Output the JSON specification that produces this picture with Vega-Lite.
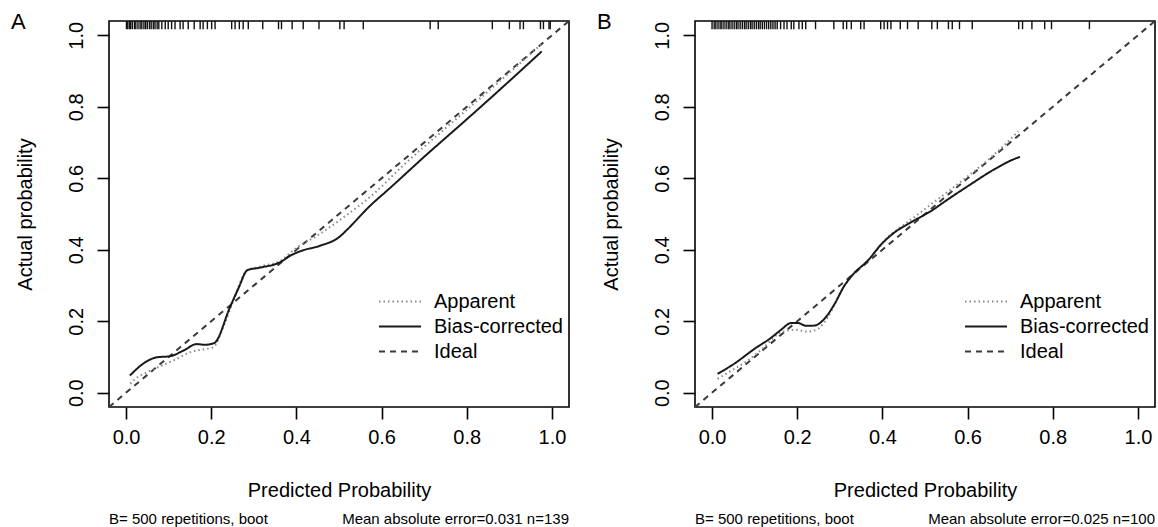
{
  "$schema": "https://vega.github.io/schema/vega-lite/v6.json",
  "background": "white",
  "padding": {"left": 10, "top": 10, "right": 0, "bottom": 0},
  "bounds": "flush",
  "spacing": 126,
  "config": {
    "font": "Liberation Sans",
    "view": {"stroke": "black", "strokeWidth": 1.6},
    "axis": {
      "grid": false,
      "domain": false,
      "tickSize": 12,
      "tickColor": "black",
      "tickWidth": 1.6,
      "labelFont": "Liberation Sans",
      "labelFontSize": 20,
      "labelColor": "black",
      "titleFont": "Liberation Sans",
      "titleFontSize": 20,
      "titleFontWeight": "normal",
      "titleColor": "black"
    },
    "legend": {
      "orient": "none",
      "legendX": 269,
      "legendY": 268,
      "title": null,
      "symbolType": "stroke",
      "symbolSize": 1764,
      "symbolStrokeWidth": 1.8,
      "labelFont": "Liberation Sans",
      "labelFontSize": 20,
      "labelColor": "black",
      "labelOffset": 12,
      "clipHeight": 25,
      "rowPadding": 0,
      "padding": 0,
      "labelLimit": 300
    }
  },
  "datasets": {
    "curves": [
      {"panel": "A", "series": "Ideal", "x": -0.04, "y": -0.04},
      {"panel": "A", "series": "Ideal", "x": 1.04, "y": 1.04},
      {"panel": "A", "series": "Apparent", "x": 0.01, "y": 0.025},
      {"panel": "A", "series": "Apparent", "x": 0.017, "y": 0.034},
      {"panel": "A", "series": "Apparent", "x": 0.049, "y": 0.057},
      {"panel": "A", "series": "Apparent", "x": 0.084, "y": 0.076},
      {"panel": "A", "series": "Apparent", "x": 0.12, "y": 0.095},
      {"panel": "A", "series": "Apparent", "x": 0.15, "y": 0.113},
      {"panel": "A", "series": "Apparent", "x": 0.185, "y": 0.122},
      {"panel": "A", "series": "Apparent", "x": 0.205, "y": 0.127},
      {"panel": "A", "series": "Apparent", "x": 0.228, "y": 0.183},
      {"panel": "A", "series": "Apparent", "x": 0.252, "y": 0.257},
      {"panel": "A", "series": "Apparent", "x": 0.283, "y": 0.341},
      {"panel": "A", "series": "Apparent", "x": 0.322, "y": 0.355},
      {"panel": "A", "series": "Apparent", "x": 0.362, "y": 0.369},
      {"panel": "A", "series": "Apparent", "x": 0.401, "y": 0.406},
      {"panel": "A", "series": "Apparent", "x": 0.448, "y": 0.439},
      {"panel": "A", "series": "Apparent", "x": 0.51, "y": 0.49},
      {"panel": "A", "series": "Apparent", "x": 0.581, "y": 0.556},
      {"panel": "A", "series": "Apparent", "x": 0.65, "y": 0.635},
      {"panel": "A", "series": "Apparent", "x": 0.75, "y": 0.74},
      {"panel": "A", "series": "Apparent", "x": 0.85, "y": 0.843},
      {"panel": "A", "series": "Apparent", "x": 0.975, "y": 0.975},
      {"panel": "A", "series": "Bias-corrected", "x": 0.009, "y": 0.048},
      {"panel": "A", "series": "Bias-corrected", "x": 0.045, "y": 0.085},
      {"panel": "A", "series": "Bias-corrected", "x": 0.072, "y": 0.099},
      {"panel": "A", "series": "Bias-corrected", "x": 0.103, "y": 0.102},
      {"panel": "A", "series": "Bias-corrected", "x": 0.135, "y": 0.118},
      {"panel": "A", "series": "Bias-corrected", "x": 0.166, "y": 0.136},
      {"panel": "A", "series": "Bias-corrected", "x": 0.185, "y": 0.134},
      {"panel": "A", "series": "Bias-corrected", "x": 0.207, "y": 0.139},
      {"panel": "A", "series": "Bias-corrected", "x": 0.244, "y": 0.239},
      {"panel": "A", "series": "Bias-corrected", "x": 0.265, "y": 0.295},
      {"panel": "A", "series": "Bias-corrected", "x": 0.285, "y": 0.343},
      {"panel": "A", "series": "Bias-corrected", "x": 0.315, "y": 0.35},
      {"panel": "A", "series": "Bias-corrected", "x": 0.363, "y": 0.366},
      {"panel": "A", "series": "Bias-corrected", "x": 0.385, "y": 0.383},
      {"panel": "A", "series": "Bias-corrected", "x": 0.412, "y": 0.397},
      {"panel": "A", "series": "Bias-corrected", "x": 0.455, "y": 0.411},
      {"panel": "A", "series": "Bias-corrected", "x": 0.501, "y": 0.436},
      {"panel": "A", "series": "Bias-corrected", "x": 0.518, "y": 0.455},
      {"panel": "A", "series": "Bias-corrected", "x": 0.573, "y": 0.523},
      {"panel": "A", "series": "Bias-corrected", "x": 0.62, "y": 0.573},
      {"panel": "A", "series": "Bias-corrected", "x": 0.7, "y": 0.66},
      {"panel": "A", "series": "Bias-corrected", "x": 0.8, "y": 0.765},
      {"panel": "A", "series": "Bias-corrected", "x": 0.9, "y": 0.872},
      {"panel": "A", "series": "Bias-corrected", "x": 0.976, "y": 0.955},
      {"panel": "B", "series": "Ideal", "x": -0.04, "y": -0.04},
      {"panel": "B", "series": "Ideal", "x": 1.04, "y": 1.04},
      {"panel": "B", "series": "Apparent", "x": 0.013, "y": 0.039},
      {"panel": "B", "series": "Apparent", "x": 0.05, "y": 0.065},
      {"panel": "B", "series": "Apparent", "x": 0.084, "y": 0.09},
      {"panel": "B", "series": "Apparent", "x": 0.12, "y": 0.125},
      {"panel": "B", "series": "Apparent", "x": 0.162, "y": 0.169},
      {"panel": "B", "series": "Apparent", "x": 0.194, "y": 0.176},
      {"panel": "B", "series": "Apparent", "x": 0.225, "y": 0.171},
      {"panel": "B", "series": "Apparent", "x": 0.249, "y": 0.179},
      {"panel": "B", "series": "Apparent", "x": 0.272, "y": 0.211},
      {"panel": "B", "series": "Apparent", "x": 0.304, "y": 0.286},
      {"panel": "B", "series": "Apparent", "x": 0.331, "y": 0.33},
      {"panel": "B", "series": "Apparent", "x": 0.374, "y": 0.379},
      {"panel": "B", "series": "Apparent", "x": 0.405, "y": 0.426},
      {"panel": "B", "series": "Apparent", "x": 0.445, "y": 0.465},
      {"panel": "B", "series": "Apparent", "x": 0.47, "y": 0.487},
      {"panel": "B", "series": "Apparent", "x": 0.523, "y": 0.535},
      {"panel": "B", "series": "Apparent", "x": 0.602, "y": 0.607},
      {"panel": "B", "series": "Apparent", "x": 0.664, "y": 0.668},
      {"panel": "B", "series": "Apparent", "x": 0.719, "y": 0.731},
      {"panel": "B", "series": "Bias-corrected", "x": 0.013, "y": 0.053},
      {"panel": "B", "series": "Bias-corrected", "x": 0.052, "y": 0.081},
      {"panel": "B", "series": "Bias-corrected", "x": 0.1, "y": 0.123},
      {"panel": "B", "series": "Bias-corrected", "x": 0.139, "y": 0.154},
      {"panel": "B", "series": "Bias-corrected", "x": 0.162, "y": 0.176},
      {"panel": "B", "series": "Bias-corrected", "x": 0.186, "y": 0.195},
      {"panel": "B", "series": "Bias-corrected", "x": 0.202, "y": 0.195},
      {"panel": "B", "series": "Bias-corrected", "x": 0.221, "y": 0.187},
      {"panel": "B", "series": "Bias-corrected", "x": 0.241, "y": 0.188},
      {"panel": "B", "series": "Bias-corrected", "x": 0.264, "y": 0.207},
      {"panel": "B", "series": "Bias-corrected", "x": 0.288, "y": 0.249},
      {"panel": "B", "series": "Bias-corrected", "x": 0.311, "y": 0.3},
      {"panel": "B", "series": "Bias-corrected", "x": 0.331, "y": 0.331},
      {"panel": "B", "series": "Bias-corrected", "x": 0.366, "y": 0.37},
      {"panel": "B", "series": "Bias-corrected", "x": 0.398, "y": 0.416},
      {"panel": "B", "series": "Bias-corrected", "x": 0.429, "y": 0.449},
      {"panel": "B", "series": "Bias-corrected", "x": 0.46, "y": 0.472},
      {"panel": "B", "series": "Bias-corrected", "x": 0.515, "y": 0.509},
      {"panel": "B", "series": "Bias-corrected", "x": 0.555, "y": 0.542},
      {"panel": "B", "series": "Bias-corrected", "x": 0.602, "y": 0.579},
      {"panel": "B", "series": "Bias-corrected", "x": 0.664, "y": 0.626},
      {"panel": "B", "series": "Bias-corrected", "x": 0.704, "y": 0.651},
      {"panel": "B", "series": "Bias-corrected", "x": 0.723, "y": 0.66}
    ],
    "rug": [
      {"panel": "A", "x": 0.001}, {"panel": "A", "x": 0.004}, {"panel": "A", "x": 0.008}, {"panel": "A", "x": 0.011},
      {"panel": "A", "x": 0.015}, {"panel": "A", "x": 0.02}, {"panel": "A", "x": 0.023}, {"panel": "A", "x": 0.028},
      {"panel": "A", "x": 0.033}, {"panel": "A", "x": 0.037}, {"panel": "A", "x": 0.042}, {"panel": "A", "x": 0.046},
      {"panel": "A", "x": 0.05}, {"panel": "A", "x": 0.055}, {"panel": "A", "x": 0.059}, {"panel": "A", "x": 0.064},
      {"panel": "A", "x": 0.068}, {"panel": "A", "x": 0.073}, {"panel": "A", "x": 0.077}, {"panel": "A", "x": 0.084},
      {"panel": "A", "x": 0.092}, {"panel": "A", "x": 0.099}, {"panel": "A", "x": 0.107}, {"panel": "A", "x": 0.115},
      {"panel": "A", "x": 0.127}, {"panel": "A", "x": 0.134}, {"panel": "A", "x": 0.146}, {"panel": "A", "x": 0.16},
      {"panel": "A", "x": 0.174}, {"panel": "A", "x": 0.181}, {"panel": "A", "x": 0.191}, {"panel": "A", "x": 0.201},
      {"panel": "A", "x": 0.209}, {"panel": "A", "x": 0.248}, {"panel": "A", "x": 0.256}, {"panel": "A", "x": 0.266},
      {"panel": "A", "x": 0.275}, {"panel": "A", "x": 0.287}, {"panel": "A", "x": 0.321}, {"panel": "A", "x": 0.358},
      {"panel": "A", "x": 0.365}, {"panel": "A", "x": 0.39}, {"panel": "A", "x": 0.416}, {"panel": "A", "x": 0.453},
      {"panel": "A", "x": 0.502}, {"panel": "A", "x": 0.512}, {"panel": "A", "x": 0.557}, {"panel": "A", "x": 0.714},
      {"panel": "A", "x": 0.733}, {"panel": "A", "x": 0.86}, {"panel": "A", "x": 0.9}, {"panel": "A", "x": 0.925},
      {"panel": "A", "x": 0.933}, {"panel": "A", "x": 0.973}, {"panel": "A", "x": 0.98}, {"panel": "A", "x": 0.993},
      {"panel": "A", "x": 0.996},
      {"panel": "B", "x": 0.0}, {"panel": "B", "x": 0.005}, {"panel": "B", "x": 0.009}, {"panel": "B", "x": 0.014},
      {"panel": "B", "x": 0.019}, {"panel": "B", "x": 0.023}, {"panel": "B", "x": 0.028}, {"panel": "B", "x": 0.033},
      {"panel": "B", "x": 0.038}, {"panel": "B", "x": 0.042}, {"panel": "B", "x": 0.047}, {"panel": "B", "x": 0.052},
      {"panel": "B", "x": 0.057}, {"panel": "B", "x": 0.061}, {"panel": "B", "x": 0.066}, {"panel": "B", "x": 0.071},
      {"panel": "B", "x": 0.076}, {"panel": "B", "x": 0.08}, {"panel": "B", "x": 0.085}, {"panel": "B", "x": 0.09},
      {"panel": "B", "x": 0.094}, {"panel": "B", "x": 0.099}, {"panel": "B", "x": 0.104}, {"panel": "B", "x": 0.109},
      {"panel": "B", "x": 0.113}, {"panel": "B", "x": 0.118}, {"panel": "B", "x": 0.123}, {"panel": "B", "x": 0.128},
      {"panel": "B", "x": 0.133}, {"panel": "B", "x": 0.138}, {"panel": "B", "x": 0.143}, {"panel": "B", "x": 0.148},
      {"panel": "B", "x": 0.153}, {"panel": "B", "x": 0.161}, {"panel": "B", "x": 0.169}, {"panel": "B", "x": 0.176},
      {"panel": "B", "x": 0.186}, {"panel": "B", "x": 0.192}, {"panel": "B", "x": 0.204}, {"panel": "B", "x": 0.212},
      {"panel": "B", "x": 0.22}, {"panel": "B", "x": 0.243}, {"panel": "B", "x": 0.286}, {"panel": "B", "x": 0.308},
      {"panel": "B", "x": 0.316}, {"panel": "B", "x": 0.327}, {"panel": "B", "x": 0.349}, {"panel": "B", "x": 0.357},
      {"panel": "B", "x": 0.396}, {"panel": "B", "x": 0.404}, {"panel": "B", "x": 0.412}, {"panel": "B", "x": 0.42},
      {"panel": "B", "x": 0.442}, {"panel": "B", "x": 0.459}, {"panel": "B", "x": 0.484}, {"panel": "B", "x": 0.516},
      {"panel": "B", "x": 0.529}, {"panel": "B", "x": 0.555}, {"panel": "B", "x": 0.564}, {"panel": "B", "x": 0.581},
      {"panel": "B", "x": 0.611}, {"panel": "B", "x": 0.72}, {"panel": "B", "x": 0.729}, {"panel": "B", "x": 0.751},
      {"panel": "B", "x": 0.781}, {"panel": "B", "x": 0.797}, {"panel": "B", "x": 0.886}
    ],
    "notes": [
      {"panel": "A", "kind": "tag", "text": "A"},
      {"panel": "A", "kind": "left", "text": "B= 500 repetitions, boot"},
      {"panel": "A", "kind": "right", "text": "Mean absolute error=0.031 n=139"},
      {"panel": "B", "kind": "tag", "text": "B"},
      {"panel": "B", "kind": "left", "text": "B= 500 repetitions, boot"},
      {"panel": "B", "kind": "right", "text": "Mean absolute error=0.025 n=100"}
    ]
  },
  "resolve": {"scale": {"color": "independent", "strokeDash": "independent"}, "legend": {"color": "independent", "strokeDash": "independent"}},
  "hconcat": [
    {
      "width": 460,
      "height": 386,
      "layer": [
        {
          "data": {"name": "curves"},
          "transform": [{"filter": "datum.panel === 'A'"}],
          "mark": {"type": "line", "interpolate": "monotone", "strokeWidth": 2},
          "encoding": {
            "x": {"field": "x", "type": "quantitative", "scale": {"domain": [-0.04, 1.04], "nice": false, "zero": false},
                  "axis": {"values": [0, 0.2, 0.4, 0.6, 0.8, 1.0], "format": ".1f", "labelPadding": 8, "title": "Predicted Probability", "titlePadding": 33}},
            "y": {"field": "y", "type": "quantitative", "scale": {"domain": [-0.04, 1.04], "nice": false, "zero": false},
                  "axis": {"values": [0, 0.2, 0.4, 0.6, 0.8, 1.0], "format": ".1f", "labelAngle": -90, "labelAlign": "center", "labelBaseline": "bottom", "labelPadding": 11, "title": "Actual probability", "titlePadding": 31}},
            "color": {"field": "series", "type": "nominal", "scale": {"domain": ["Apparent", "Bias-corrected", "Ideal"], "range": ["#8a8a8a", "#1a1a1a", "#3a3a3a"]}, "legend": {"title": null}},
            "strokeDash": {"field": "series", "type": "nominal", "scale": {"domain": ["Apparent", "Bias-corrected", "Ideal"], "range": [[1.5, 3], [1, 0], [6, 5]]}, "legend": {"title": null}}
          }
        },
        {
          "data": {"name": "rug"},
          "transform": [{"filter": "datum.panel === 'A'"}],
          "mark": {"type": "rule", "color": "#111111", "strokeWidth": 1.4},
          "encoding": {"x": {"field": "x", "type": "quantitative"}, "y": {"datum": 1.04}, "y2": {"datum": 1.017}}
        },
        {
          "data": {"name": "notes"},
          "transform": [{"filter": "datum.panel === 'A' && datum.kind === 'left'"}],
          "mark": {"type": "text", "align": "left", "baseline": "alphabetic", "fontSize": 15, "color": "black"},
          "encoding": {"x": {"datum": -0.04}, "y": {"datum": -0.367}, "text": {"field": "text"}}
        },
        {
          "data": {"name": "notes"},
          "transform": [{"filter": "datum.panel === 'A' && datum.kind === 'right'"}],
          "mark": {"type": "text", "align": "right", "baseline": "alphabetic", "fontSize": 15, "color": "black"},
          "encoding": {"x": {"datum": 1.04}, "y": {"datum": -0.367}, "text": {"field": "text"}}
        },
        {
          "data": {"name": "notes"},
          "transform": [{"filter": "datum.panel === 'A' && datum.kind === 'tag'"}],
          "mark": {"type": "text", "align": "left", "baseline": "alphabetic", "fontSize": 22, "color": "black"},
          "encoding": {"x": {"datum": -0.27}, "y": {"datum": 1.018}, "text": {"field": "text"}}
        }
      ]
    },
    {
      "width": 460,
      "height": 386,
      "layer": [
        {
          "data": {"name": "curves"},
          "transform": [{"filter": "datum.panel === 'B'"}],
          "mark": {"type": "line", "interpolate": "monotone", "strokeWidth": 2},
          "encoding": {
            "x": {"field": "x", "type": "quantitative", "scale": {"domain": [-0.04, 1.04], "nice": false, "zero": false},
                  "axis": {"values": [0, 0.2, 0.4, 0.6, 0.8, 1.0], "format": ".1f", "labelPadding": 8, "title": "Predicted Probability", "titlePadding": 33}},
            "y": {"field": "y", "type": "quantitative", "scale": {"domain": [-0.04, 1.04], "nice": false, "zero": false},
                  "axis": {"values": [0, 0.2, 0.4, 0.6, 0.8, 1.0], "format": ".1f", "labelAngle": -90, "labelAlign": "center", "labelBaseline": "bottom", "labelPadding": 11, "title": "Actual probability", "titlePadding": 31}},
            "color": {"field": "series", "type": "nominal", "scale": {"domain": ["Apparent", "Bias-corrected", "Ideal"], "range": ["#8a8a8a", "#1a1a1a", "#3a3a3a"]}, "legend": {"title": null}},
            "strokeDash": {"field": "series", "type": "nominal", "scale": {"domain": ["Apparent", "Bias-corrected", "Ideal"], "range": [[1.5, 3], [1, 0], [6, 5]]}, "legend": {"title": null}}
          }
        },
        {
          "data": {"name": "rug"},
          "transform": [{"filter": "datum.panel === 'B'"}],
          "mark": {"type": "rule", "color": "#111111", "strokeWidth": 1.4},
          "encoding": {"x": {"field": "x", "type": "quantitative"}, "y": {"datum": 1.04}, "y2": {"datum": 1.017}}
        },
        {
          "data": {"name": "notes"},
          "transform": [{"filter": "datum.panel === 'B' && datum.kind === 'left'"}],
          "mark": {"type": "text", "align": "left", "baseline": "alphabetic", "fontSize": 15, "color": "black"},
          "encoding": {"x": {"datum": -0.04}, "y": {"datum": -0.367}, "text": {"field": "text"}}
        },
        {
          "data": {"name": "notes"},
          "transform": [{"filter": "datum.panel === 'B' && datum.kind === 'right'"}],
          "mark": {"type": "text", "align": "right", "baseline": "alphabetic", "fontSize": 15, "color": "black"},
          "encoding": {"x": {"datum": 1.04}, "y": {"datum": -0.367}, "text": {"field": "text"}}
        },
        {
          "data": {"name": "notes"},
          "transform": [{"filter": "datum.panel === 'B' && datum.kind === 'tag'"}],
          "mark": {"type": "text", "align": "left", "baseline": "alphabetic", "fontSize": 22, "color": "black"},
          "encoding": {"x": {"datum": -0.27}, "y": {"datum": 1.018}, "text": {"field": "text"}}
        }
      ]
    }
  ]
}
